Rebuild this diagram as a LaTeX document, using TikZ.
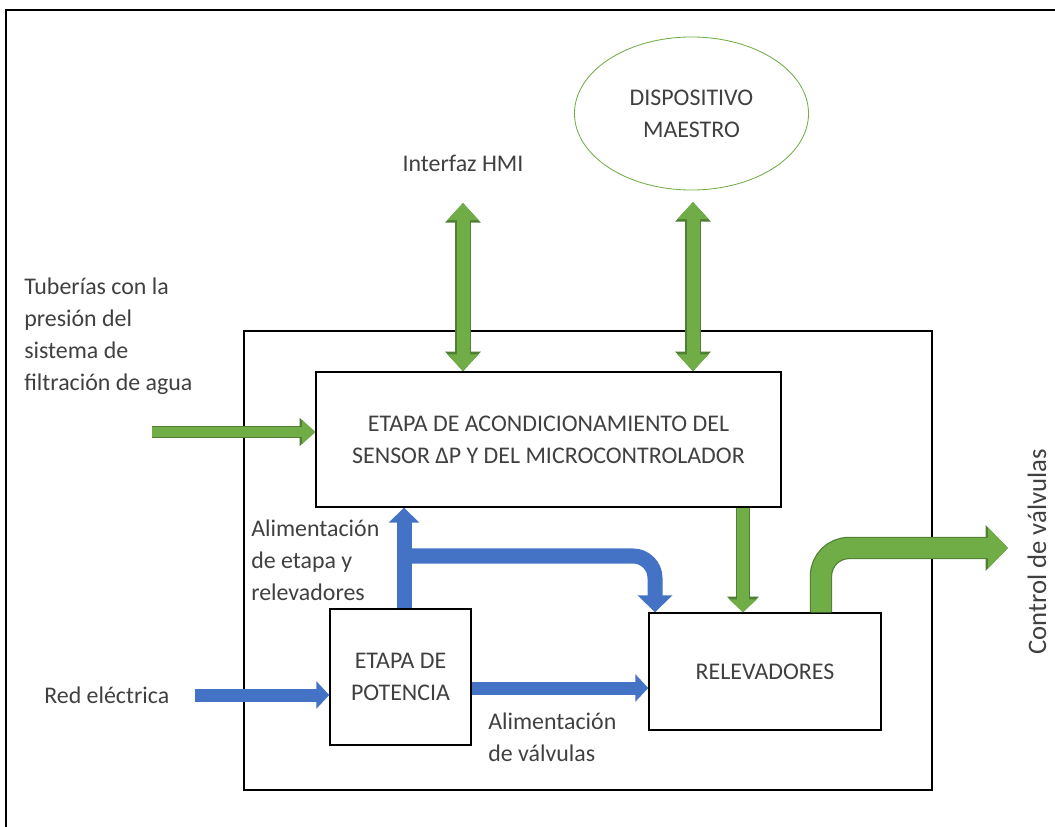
\documentclass[tikz,border=0pt]{standalone}
\usepackage{fontspec}
\setmainfont{Carlito}
\usetikzlibrary{arrows.meta,shapes.geometric}
\definecolor{verde}{HTML}{70AD47}
\definecolor{verdeosc}{HTML}{507E32}
\definecolor{azul}{HTML}{4472C4}
\definecolor{texto}{HTML}{404040}
\tikzset{
  every node/.style={font=\fontsize{17pt}{22.8pt}\selectfont, text=texto},
  bloque/.style={draw, line width=1pt, inner sep=0pt, align=center},
  etiqueta/.style={inner sep=0pt, align=left},
  gdoble/.style={verde, line width=0.325cm, {Triangle[width=0.75cm,length=0.425cm]}-{Triangle[width=0.75cm,length=0.425cm]},
    preaction={draw=verdeosc, line width=0.39cm, {Triangle[width=0.86cm,length=0.49cm]}-{Triangle[width=0.86cm,length=0.49cm]}}},
  gflecha/.style={verde, line width=0.25cm, -{Triangle[width=0.575cm,length=0.325cm]},
    preaction={draw=verdeosc, line width=0.31cm, -{Triangle[width=0.68cm,length=0.39cm]}}},
  gbaja/.style={verde, line width=0.3cm, -{Triangle[width=0.675cm,length=0.325cm]},
    preaction={draw=verdeosc, line width=0.36cm, -{Triangle[width=0.78cm,length=0.39cm]}}},
  gcurva/.style={verde, line width=0.5cm, rounded corners=0.7cm, -{Triangle[width=1cm,length=0.5cm]},
    preaction={draw=verdeosc, line width=0.56cm, -{Triangle[width=1.11cm,length=0.56cm]}}},
  bsube/.style={azul, line width=0.375cm, -{Triangle[width=0.75cm,length=0.375cm]}},
  bcurva/.style={azul, line width=0.375cm, rounded corners=0.55cm, -{Triangle[width=0.85cm,length=0.425cm]}},
  bflecha/.style={azul, line width=0.325cm, -{Triangle[width=0.675cm,length=0.325cm]}}
}
\begin{document}
\begin{tikzpicture}[x=0.025cm,y=-0.025cm]
\useasboundingbox (0,0) rectangle (1055,827);
\draw[line width=1.2pt] (1055,10) -- (6,10) -- (6,827);

\node[bloque, minimum width=17.2cm, minimum height=11.475cm] (sistema) at (588,560.5) {};
\node[bloque, minimum width=11.625cm, minimum height=3.375cm] (acond) at (548.5,439.5) {ETAPA DE ACONDICIONAMIENTO DEL\\SENSOR ΔP Y DEL MICROCONTROLADOR};
\node[bloque, minimum width=3.525cm, minimum height=3.4cm] (pot) at (400.5,677) {ETAPA DE\\POTENCIA};
\node[bloque, minimum width=5.8cm, minimum height=2.925cm] (relev) at (765,671.5) {RELEVADORES};
\node[ellipse, draw=verde, line width=0.6pt, inner sep=0pt, align=center, minimum width=5.85cm, minimum height=3.825cm] (maestro) at (691.5,113.5) {DISPOSITIVO\\MAESTRO};

\node[etiqueta] (hmi) at (463,163) {Interfaz HMI};
\node[etiqueta, anchor=west] (tuberias) at (24,336) {Tuberías con la\\presión del\\sistema de\\filtración de agua};
\node[etiqueta, anchor=west] (alimA) at (251,560) {Alimentación\\de etapa y\\relevadores};
\node[etiqueta, anchor=west] (alimB) at (488,737) {Alimentación\\de válvulas};
\node[etiqueta, anchor=west] (red) at (44,695) {Red eléctrica};
\node[etiqueta, rotate=90, font=\fontsize{19pt}{24pt}\selectfont] (control) at (1037,552) {Control de válvulas};

\coordinate (hmiA) at (463,203);
\draw[gdoble] (hmiA) -- (hmiA |- acond.north);
\coordinate (maeA) at (693,202);
\draw[gdoble] (maeA) -- (maeA |- acond.north);
\coordinate (tubA) at (152,432);
\draw[gflecha] (tubA) -- (tubA -| acond.west);
\coordinate (bajaA) at (743,507);
\draw[gbaja] (bajaA |- acond.south) -- (bajaA |- relev.north);
\coordinate (salA) at (1008,548);
\coordinate (salB) at (821,548);
\draw[gcurva] (salB |- relev.north) -- (salB) -- (salA);

\coordinate (bA) at (404,556);
\coordinate (bB) at (655,556);
\draw[bsube] (bA |- pot.north) -- (bA |- acond.south);
\draw[bcurva] (bA) -- (bB) -- (bB |- relev.north);
\coordinate (redA) at (195,695);
\draw[bflecha] (redA) -- (redA -| pot.west);
\coordinate (potA) at (471,688);
\draw[bflecha] (potA -| pot.east) -- (potA -| relev.west);
\end{tikzpicture}
\end{document}
